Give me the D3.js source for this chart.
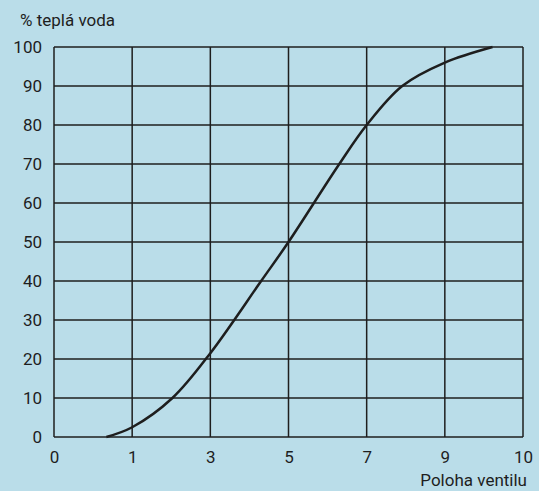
<!DOCTYPE html>
<html>
<head>
<meta charset="utf-8">
<script src="https://cdn.jsdelivr.net/npm/d3@7"></script>
<style>
  body { margin: 0; background: #badde9; }
  svg { display: block; }
  text { font-family: Roboto, "DejaVu Sans", sans-serif; fill: #1e1e1e; }
</style>
</head>
<body>
<div id="chart"></div>
<script>
// valve positions shown on the x axis (evenly spaced on the chart)
var xTicks = [0, 1, 3, 5, 7, 9, 10];
var yTicks = [0, 10, 20, 30, 40, 50, 60, 70, 80, 90, 100];

// curve: valve position -> % warm water
var valvePos = [0.67, 1, 2.03, 3, 4.3, 5, 6.3, 7, 7.91, 9, 9.61];
var warmPct  = [0, 2.5, 10, 21.5, 40, 50, 70, 80, 90, 96, 100];

var width = 539, height = 491;
var margin = { top: 47, right: 16, bottom: 54, left: 54 };
var w = width - margin.left - margin.right;
var h = height - margin.top - margin.bottom;

var svg = d3
  .select("#chart")
  .append("svg")
  .attr("width", width)
  .attr("height", height);

var g = svg.append("g").attr("transform", `translate(${margin.left},${margin.top})`);

// valve position -> tick index, then index -> pixels
var toIndex = d3.scaleLinear().domain(xTicks).range(xTicks.map((d, i) => i));
var xIdx = d3.scaleLinear().domain([0, xTicks.length - 1]).range([0, w]);
var x = (v) => xIdx(toIndex(v));
var y = d3.scaleLinear().domain([0, 100]).range([h, 0]);

// grid
g.selectAll(".vgrid")
  .data(xTicks)
  .join("line")
  .attr("x1", (d) => x(d))
  .attr("x2", (d) => x(d))
  .attr("y1", 0)
  .attr("y2", h)
  .attr("stroke", "#1e1e1e")
  .attr("stroke-width", 1.5);

g.selectAll(".hgrid")
  .data(yTicks)
  .join("line")
  .attr("x1", 0)
  .attr("x2", w)
  .attr("y1", (d) => y(d))
  .attr("y2", (d) => y(d))
  .attr("stroke", "#1e1e1e")
  .attr("stroke-width", 1.5);

// axes labels
var xAxis = d3.axisBottom(xIdx)
  .tickValues(xTicks.map((d, i) => i))
  .tickFormat((i) => xTicks[i])
  .tickSize(0)
  .tickPadding(14);
var gx = g.append("g").attr("transform", `translate(0,${h})`).call(xAxis);

var yAxis = d3.axisLeft(y).tickValues(yTicks).tickSize(0).tickPadding(12);
var gy = g.append("g").call(yAxis);

[gx, gy].forEach((a) => {
  a.select(".domain").remove();
  a.selectAll("text")
    .style("font-size", "17px")
    .style("font-family", "Roboto, 'DejaVu Sans', sans-serif")
    .attr("fill", "#1e1e1e");
});

// curve
var line = d3
  .line()
  .x((d, i) => x(valvePos[i]))
  .y((d) => y(d))
  .curve(d3.curveCatmullRom.alpha(0.5));

g.append("path")
  .datum(warmPct)
  .attr("d", line)
  .attr("fill", "none")
  .attr("stroke", "#1e1e1e")
  .attr("stroke-width", 2.5);

// titles
svg.append("text")
  .attr("x", 20)
  .attr("y", 26)
  .style("font-size", "17px")
  .text("% teplá voda");

svg.append("text")
  .attr("x", 527)
  .attr("y", 486)
  .attr("text-anchor", "end")
  .style("font-size", "17px")
  .text("Poloha ventilu");
</script>
</body>
</html>
